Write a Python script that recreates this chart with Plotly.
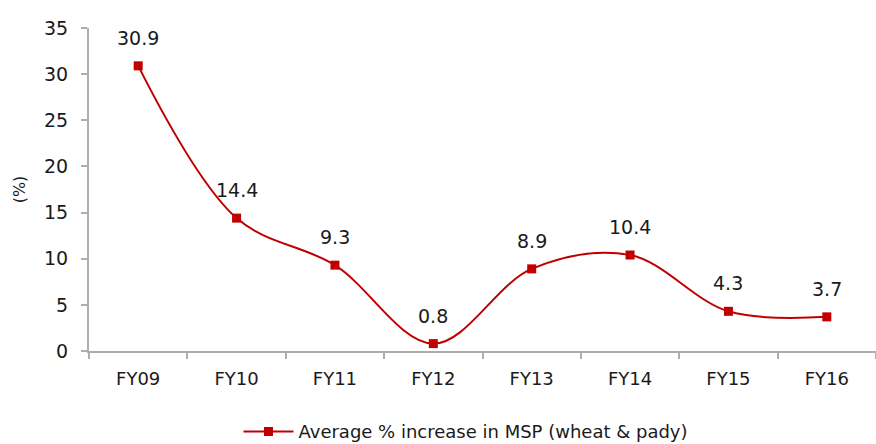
import plotly.graph_objects as go

# Average increase in minimum support price, wheat and paddy
years = ["FY09", "FY10", "FY11", "FY12", "FY13", "FY14", "FY15", "FY16"]
msp_increase = [30.9, 14.4, 9.3, 0.8, 8.9, 10.4, 4.3, 3.7]
y_ticks = [0, 5, 10, 15, 20, 25, 30, 35]

RED = "#C00000"
AXIS = "#ADADAD"
TEXT = "#1a1a1a"
FONT = "'DejaVu Sans', Verdana, sans-serif"

fig = go.Figure()
fig.add_trace(go.Scatter(
    x=years, y=msp_increase,
    mode="lines+markers",
    name="Average % increase in MSP (wheat & pady)",
    line=dict(color=RED, width=2, shape="spline", smoothing=1),
    marker=dict(symbol="square", size=9, color=RED),
))

# value labels above each point
for yr, v in zip(years, msp_increase):
    fig.add_annotation(x=yr, y=v, text=f"{v:.1f}", showarrow=False,
                       yshift=28, font=dict(family=FONT, size=19, color=TEXT))

fig.update_layout(
    width=876, height=444,
    margin=dict(l=89, r=0, t=28, b=93, autoexpand=False),
    paper_bgcolor="white", plot_bgcolor="white",
    font=dict(family=FONT, size=17, color=TEXT),
    showlegend=True,
    legend=dict(orientation="h", x=0.479, xanchor="center", y=-0.25, yanchor="middle",
                itemwidth=50, font=dict(family=FONT, size=18, color=TEXT)),
    xaxis=dict(
        range=[-0.5, 7.5], showline=True, linecolor=AXIS, linewidth=2,
        ticks="outside", tickson="boundaries", ticklen=6, tickcolor=AXIS, tickwidth=2,
        showgrid=False, zeroline=False, tickfont=dict(size=18), ticklabelstandoff=10,
    ),
    yaxis=dict(
        range=[0, 35], tickvals=y_ticks, showline=True, linecolor=AXIS, linewidth=2,
        ticks="outside", ticklen=6, tickcolor=AXIS, tickwidth=2,
        showgrid=False, zeroline=False, tickfont=dict(size=19), ticklabelstandoff=9,
        title=dict(text="(%)", font=dict(size=16), standoff=14),
    ),
)

fig.write_html("out.html")
